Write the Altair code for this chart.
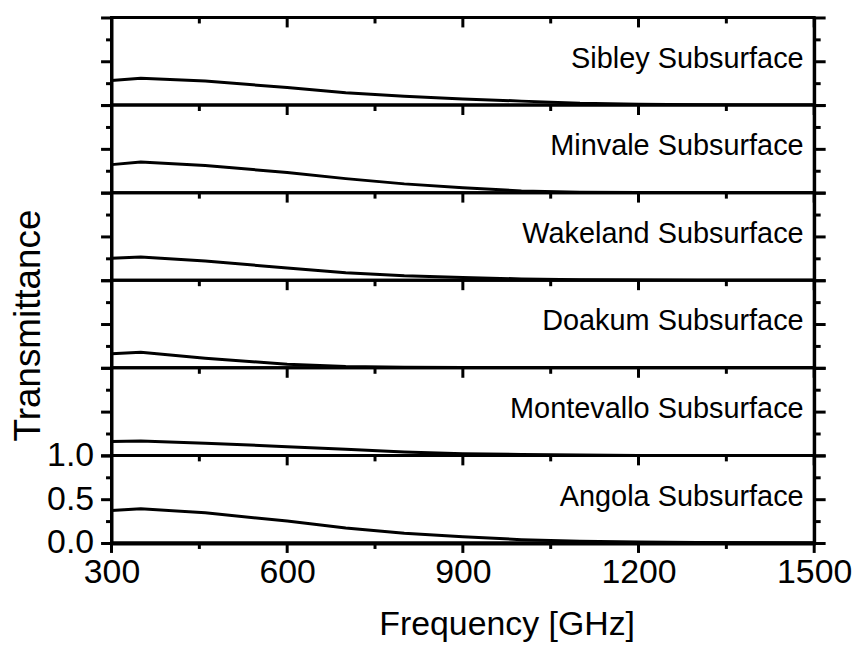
import altair as alt
import pandas as pd

# ---- data ----
freq = [300, 350, 460, 600, 700, 800, 900, 1000, 1100, 1200, 1300, 1400, 1500]
names = ["Sibley Subsurface", "Minvale Subsurface", "Wakeland Subsurface",
         "Doakum Subsurface", "Montevallo Subsurface", "Angola Subsurface"]
sibley = [0.28, 0.305, 0.275, 0.20, 0.14, 0.10, 0.07, 0.045, 0.02, 0.01, 0.003, 0.0, 0.0]
minvale = [0.32, 0.35, 0.31, 0.23, 0.16, 0.10, 0.055, 0.02, 0.006, 0.002, 0.0, 0.0, 0.0]
wakeland = [0.25, 0.265, 0.22, 0.14, 0.085, 0.05, 0.03, 0.015, 0.005, 0.002, 0.0, 0.0, 0.0]
doakum = [0.16, 0.177, 0.11, 0.04, 0.015, 0.007, 0.003, 0.0, 0.0, 0.0, 0.0, 0.0, 0.0]
montevallo = [0.158, 0.165, 0.14, 0.10, 0.07, 0.04, 0.02, 0.01, 0.005, 0.0, 0.0, 0.0, 0.0]
angola = [0.37, 0.39, 0.345, 0.25, 0.17, 0.11, 0.07, 0.038, 0.02, 0.01, 0.005, 0.002, 0.0]
series = [sibley, minvale, wakeland, doakum, montevallo, angola]

x_major = [300, 600, 900, 1200, 1500]
x_minor = [450, 750, 1050, 1350]
y_major = [0, 0.5, 1.0]
y_minor = [0.25, 0.75]

FONT = "Liberation Sans"
W, H = 706, 88
MAJ, MIN = 10, 6

xscale = alt.Scale(domain=[300, 1500], nice=False, zero=False)
yscale = alt.Scale(domain=[0, 1], nice=False, zero=False)

major_df = pd.DataFrame({"v": x_major})
minor_df = pd.DataFrame({"v": x_minor})


def y_major_left(bottom, with_title):
    kw = dict(values=y_major, tickSize=MAJ + 1, grid=False, orient="left")
    if bottom:
        kw.update(format=".1f", labelFontSize=34, labelPadding=7, labelOverlap=False,
                  labelBaseline="middle")
    else:
        kw.update(labels=False)
    if with_title:
        kw.update(title="Transmittance", titleFontSize=37, titleFontWeight="normal",
                  titleAngle=-90, titleX=-83, titleY=45, titleBaseline="middle",
                  titleAlign="center")
    else:
        kw.update(title=None)
    return alt.Axis(**kw)


def y_minor_axis(orient):
    return alt.Axis(values=y_minor, tickSize=MIN, grid=False, orient=orient,
                    labels=False, domain=False, title=None)


def y_major_right():
    return alt.Axis(values=y_major, tickSize=MAJ + 1, grid=False, orient="right",
                    labels=False, title=None)


def x_ticks(tdf, y0, y1):
    return alt.Chart(tdf).mark_rule(color="black", strokeWidth=3).encode(
        x=alt.X("v:Q", scale=xscale, axis=None),
        y=alt.value(y0), y2=alt.value(y1))


panels = []
for i, (name, vals) in enumerate(zip(names, series)):
    bottom = i == len(names) - 1
    df = pd.DataFrame({"f": freq, "t": vals})
    base = alt.Chart(df)
    line = base.mark_line(color="black", strokeWidth=3, clip=True).encode(
        x=alt.X("f:Q", scale=xscale, axis=None),
        y=alt.Y("t:Q", scale=yscale, axis=y_major_left(bottom, i == 3)),
    )
    label = alt.Chart(pd.DataFrame({"label": [name]})).mark_text(
        align="right", baseline="middle", fontSize=29, font=FONT, color="black"
    ).encode(
        x=alt.X(datum=1482, scale=xscale, axis=None),
        y=alt.Y(datum=0.53, scale=yscale, axis=y_minor_axis("left")),
        text="label:N",
    )
    right_a = base.mark_line(opacity=0).encode(
        x=alt.X("f:Q", scale=xscale, axis=None),
        y=alt.Y("t:Q", scale=yscale, axis=y_major_right()),
    )
    right_b = base.mark_line(opacity=0).encode(
        x=alt.X("f:Q", scale=xscale, axis=None),
        y=alt.Y("t:Q", scale=yscale, axis=y_minor_axis("right")),
    )
    layers = [line, label, right_a, right_b,
              x_ticks(major_df, 0, MAJ), x_ticks(minor_df, 0, MIN)]
    if bottom:
        layers += [x_ticks(major_df, H, H + MAJ), x_ticks(minor_df, H, H + MIN)]
    layer = alt.layer(*layers).resolve_axis(y="independent").properties(
        width=W, height=H)
    panels.append(layer)

# thin strip below the last panel that carries the frequency labels and title
strip = alt.Chart(pd.DataFrame({"f": [300], "t": [0.5]})).mark_point(opacity=0).encode(
    x=alt.X("f:Q", scale=xscale,
            axis=alt.Axis(values=x_major, ticks=False, domain=False, orient="bottom",
                          labelFlush=False, labelOverlap=False, format="d",
                          labelFontSize=34, labelPadding=12, grid=False,
                          title="Frequency [GHz]", titleFontSize=34,
                          titleFontWeight="normal", titleX=397, titleY=91,
                          titleBaseline="alphabetic", titleAlign="center")),
    y=alt.Y("t:Q", scale=yscale, axis=None),
).properties(width=W, height=1)
panels.append(strip)

chart = alt.vconcat(*panels, spacing=0, bounds="flush").properties(
    padding={"left": 0, "top": 5, "right": 0, "bottom": 5}
).configure_view(
    stroke="black", strokeWidth=3
).configure_axis(
    domainColor="black", domainWidth=3, tickColor="black", tickWidth=3,
    labelColor="black", titleColor="black", labelFont=FONT, titleFont=FONT,
)

chart.save("out.html", embed_options={"renderer": "svg", "actions": False})
